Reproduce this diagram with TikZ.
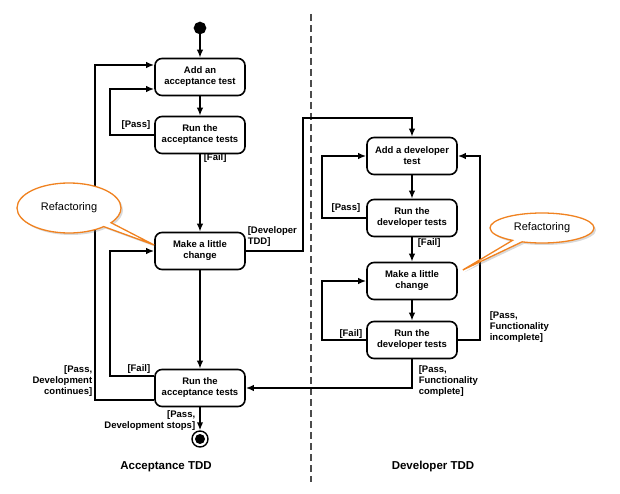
\documentclass[tikz,border=0pt]{standalone}
\usepackage{fontspec}
\setmainfont{Liberation Sans}
\usepackage{tikz}
\usetikzlibrary{arrows.meta}
\usetikzlibrary{calc}
\usetikzlibrary{positioning}
\usetikzlibrary{shapes.callouts}
\usetikzlibrary{shadows}
\definecolor{calloutorange}{RGB}{240,130,32}
\newcommand{\boxfont}{\fontsize{9.5}{11}\selectfont\bfseries}
\newcommand{\lanefont}{\fontsize{11.5}{13}\selectfont\bfseries}

\begin{document}
\begin{tikzpicture}[
  x=1pt, y=-1pt,
  > = {Latex[length=8pt,width=6.5pt]},
  line width=1.6pt,
  act/.style = {draw, rounded corners=7pt, fill=white, minimum width=90pt, minimum height=37pt, align=center, inner sep=2pt, font=\boxfont},
  guard/.style = {font=\boxfont, inner sep=0pt},
  dot/.style = {draw, fill, circle, inner sep=0pt, minimum size=11pt},
  finalnode/.style = {draw, circle, fill=white, line width=1.4pt, minimum size=16pt, inner sep=0pt,
    path picture={\fill[black] (path picture bounding box.center) circle (5pt);}},
  lane/.style = {font=\lanefont, inner sep=0pt},
  refac/.style = {ellipse callout, draw=calloutorange, line width=1.3pt, fill=white, inner sep=1pt,
    font=\fontsize{11}{13}\selectfont, callout pointer arc=12,
    drop shadow={shadow xshift=2pt, shadow yshift=-2pt, opacity=0.3}}
  ]
	\useasboundingbox (0,0) rectangle (620,494);

	\draw[gray!60!black, line width=1.1pt, dash pattern=on 7pt off 4pt] (311,14) -- (311,482);

	\node[dot] (start) at (200,28) {};
	\node[act] (addacc) at (200,77) {Add an\\acceptance test};
	\node[act] (runacc1) at (200,135) {Run the\\acceptance tests};
	\node[act] (change1) at (200,251) {Make a little\\change};
	\node[act] (runacc2) at (200,388) {Run the\\acceptance tests};
	\node[finalnode] (endnode) at (200,439) {};

	\node[act] (adddev) at (412,156) {Add a developer\\test};
	\node[act] (rundev1) at (412,218) {Run the\\developer tests};
	\node[act] (change2) at (412,281) {Make a little\\change};
	\node[act] (rundev2) at (412,340) {Run the\\developer tests};

	\coordinate (@pa) at (110,89);
	\coordinate (@ca) at (95,65);
	\coordinate (@fa) at (110,251);
	\coordinate (@dv) at (303,118);
	\coordinate (@pd) at (322,156);
	\coordinate (@fd) at (322,281);
	\coordinate (@id) at (480,156);

	\draw[->] (start) -- (addacc);
	\draw[->] (addacc) -- (runacc1);
	\draw[->] (runacc1) -- (change1);
	\draw[->] (change1) -- (runacc2);
	\draw[->] (runacc2) -- (endnode);
	\draw[->] (runacc1.west) -| (@pa) -- (addacc.west |- @pa);
	\draw[->] ([yshift=-12pt]runacc2.west) -| (@ca) -- (addacc.west |- @ca);
	\draw[->] ([yshift=12pt]runacc2.west) -| (@fa) -- (change1.west);
	\draw[->] (change1.east) -| (@dv) -| (adddev.north);

	\draw[->] (adddev) -- (rundev1);
	\draw[->] (rundev1) -- (change2);
	\draw[->] (change2) -- (rundev2);
	\draw[->] (rundev1.west) -| (@pd) -- (adddev.west);
	\draw[->] (rundev2.west) -| (@fd) -- (change2.west);
	\draw[->] (rundev2.east) -| (@id) -- (adddev.east);
	\draw[->] (rundev2.south) |- (runacc2.east);

	\node[guard, anchor=east] (g1) at (151,125) {[Pass]};
	\node[guard, anchor=west] (g2) at (203,158) {[Fail]};
	\node[guard, anchor=west, align=left] (g3) at (247,236.5) {[Developer\\TDD]};
	\node[guard, anchor=east] (g4) at (151,369) {[Fail]};
	\node[guard, anchor=east, align=right] (g5) at (93,381.5) {[Pass,\\Development\\continues]};
	\node[guard, anchor=east, align=right] (g6) at (196,421) {[Pass,\\Development stops]};
	\node[guard, anchor=east] (g7) at (361,208) {[Pass]};
	\node[guard, anchor=west] (g8) at (417,243) {[Fail]};
	\node[guard, anchor=east] (g9) at (363,334) {[Fail]};
	\node[guard, anchor=west, align=left] (g10) at (489,327) {[Pass,\\Functionality\\incomplete]};
	\node[guard, anchor=west, align=left] (g11) at (418,381) {[Pass,\\Functionality\\complete]};

	\node[refac, minimum width=104pt, minimum height=50pt, callout absolute pointer={([yshift=6pt]change1.west)}] (call1) at (69,208) {Refactoring};
	\node[refac, minimum width=104pt, minimum height=30pt, callout absolute pointer={([shift={(5pt,11pt)}]change2.east)}] (call2) at (542,228) {Refactoring};

	\node[lane] (acctitle) at (166,467) {Acceptance TDD};
	\node[lane] (devtitle) at (433,467) {Developer TDD};

\end{tikzpicture}
\end{document}
